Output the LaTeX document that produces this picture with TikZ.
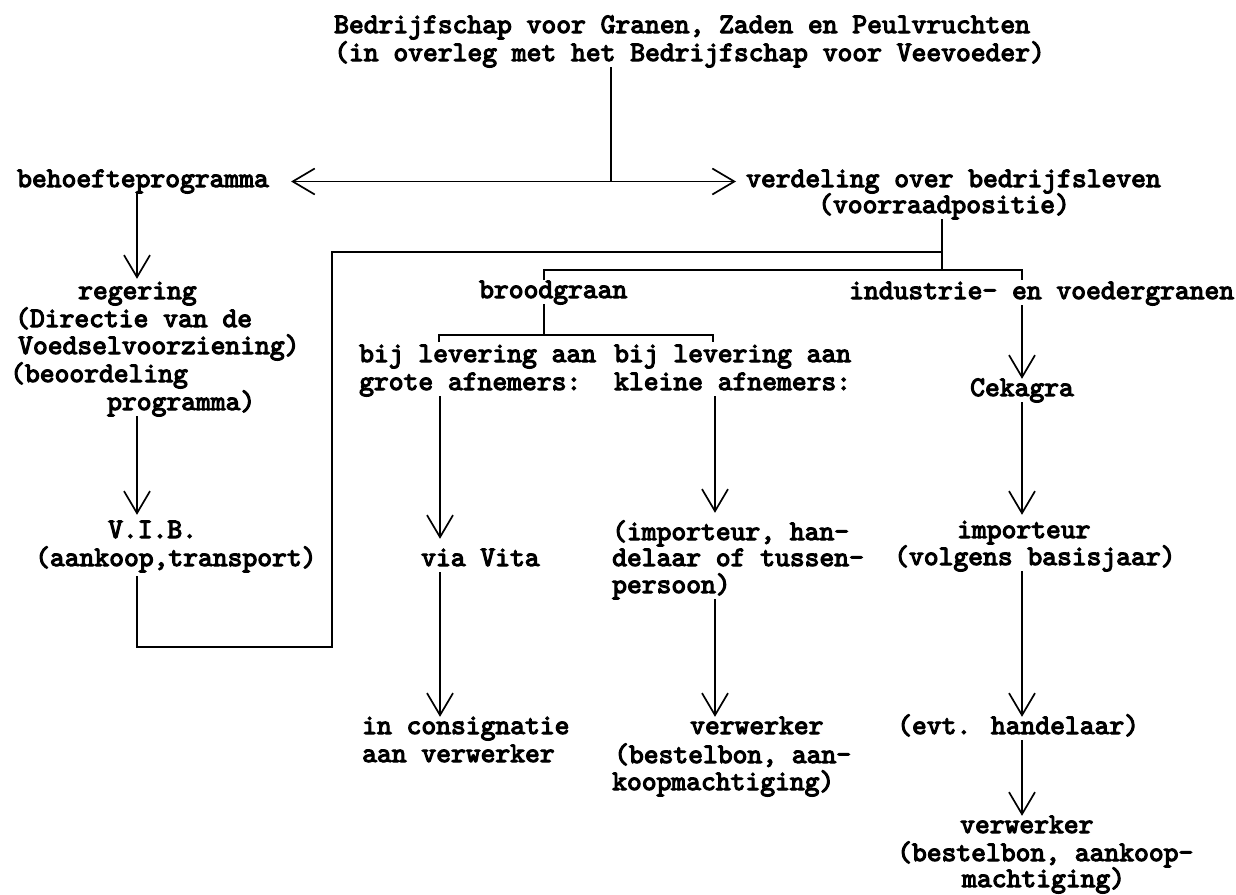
\documentclass[tikz,border=0pt]{standalone}
\usepackage{fontspec}
\newfontfamily\typew{lmmono10-regular.otf}[FakeBold=4]
\usetikzlibrary{arrows.meta}
\begin{document}
\begin{tikzpicture}[x=1pt,y=-1pt,
  lbl/.style={anchor=base west, inner sep=1pt, text height=16pt, text depth=5pt,
    font=\typew\fontsize{28.2}{28}\selectfont},
  ln/.style={line width=1.7pt},
  barb/.tip={Straight Barb[length=22pt,width=26pt]},
  arr/.style={ln,-barb},
  dbl/.style={ln,barb-barb}]
\useasboundingbox (0,0) rectangle (1236,894);
% column and row coordinates
\coordinate (xT) at (611,0);
\coordinate (xA) at (137,0);
\coordinate (xL) at (332,0);
\coordinate (xV) at (942,0);
\coordinate (xB) at (544,0);
\coordinate (xI) at (1022,0);
\coordinate (xG) at (440,0);
\coordinate (xK) at (715,0);
\coordinate (xGl) at (439,0);
\coordinate (xKr) at (713,0);
\coordinate (yTop) at (0,252);
\coordinate (yMid) at (0,270);
\coordinate (yTick) at (0,280);
\coordinate (yBr) at (0,335);
\coordinate (yBrT) at (0,342);
\coordinate (yBot) at (0,647);
% texts
\node[lbl] (t1) at (333,33) {Bedrijfschap voor Granen, Zaden en Peulvruchten};
\node[lbl] (t2) at (333,61) {(in overleg met het Bedrijfschap voor Veevoeder)};
\node[lbl] (beh) at (16,187) {behoefteprogramma};
\node[lbl] (vd1) at (745,187) {verdeling over bedrijfsleven};
\node[lbl] (vd2) at (817,213) {(voorraadpositie)};
\node[lbl] (rg1) at (77,299) {regering};
\node[lbl] (rg2) at (14,327) {(Directie van de};
\node[lbl] (rg3) at (17,354) {Voedselvoorziening)};
\node[lbl] (rg4) at (9,382) {(beoordeling};
\node[lbl] (rg5) at (106,410) {programma)};
\node[lbl] (vb1) at (107,538) {V.I.B.};
\node[lbl] (vb2) at (34,566) {(aankoop,transport)};
\node[lbl] (brd) at (478,298) {broodgraan};
\node[lbl] (ind) at (848,299) {industrie- en voedergranen};
\node[lbl] (g1) at (358,362) {bij levering aan};
\node[lbl] (g2) at (358,390) {grote afnemers:};
\node[lbl] (k1) at (613,362) {bij levering aan};
\node[lbl] (k2) at (613,390) {kleine afnemers:};
\node[lbl] (vita) at (420,566) {via Vita};
\node[lbl] (cs1) at (361,734) {in consignatie};
\node[lbl] (cs2) at (361,762) {aan verwerker};
\node[lbl] (im1) at (611,540) {(importeur, han-};
\node[lbl] (im2) at (611,566) {delaar of tussen-};
\node[lbl] (im3) at (611,593) {persoon)};
\node[lbl] (vw1) at (689,734) {verwerker};
\node[lbl] (vw2) at (613,763) {(bestelbon, aan-};
\node[lbl] (vw3) at (611,790) {koopmachtiging)};
\node[lbl] (cek) at (969,396) {Cekagra};
\node[lbl] (ip1) at (956,538) {importeur};
\node[lbl] (ip2) at (893,565) {(volgens basisjaar)};
\node[lbl] (evt) at (896,734) {(evt. handelaar)};
\node[lbl] (ww1) at (959,833) {verwerker};
\node[lbl] (ww2) at (896,861) {(bestelbon, aankoop-};
\node[lbl] (ww3) at (961,887) {machtiging)};
% connectors
\draw[ln] (t2.south -| xT) -- (xT |- beh.east);
\draw[dbl] ([xshift=21pt]beh.east) -- ([xshift=-9pt]vd1.west);
\draw[arr] (beh.south -| xA) -- ([yshift=3pt]rg1.north -| xA);
\draw[arr] (rg5.south -| xA) -- ([yshift=6pt]vb1.north -| xA);
\draw[ln] ([yshift=-4pt]vb2.south -| xA) -- (xA |- yBot) -- (xL |- yBot) -- (xL |- yTop) -- (xV |- yTop);
\draw[ln] (vd2.south -| xV) -- (xV |- yMid);
\draw[ln] (xB |- yTick) -- (xB |- yMid) -- (xI |- yMid) -- (xI |- yTick);
\draw[ln] (brd.south -| xB) -- (xB |- yBr);
\draw[ln] (xGl |- yBrT) -- (xGl |- yBr) -- (xKr |- yBr) -- (xKr |- yBrT);
\draw[arr] (g2.south -| xG) -- ([yshift=10pt]vita.north -| xG);
\draw[arr] (vita.south -| xG) -- (cs1.north -| xG);
\draw[arr] (k2.south -| xK) -- ([yshift=10pt]im1.north -| xK);
\draw[arr] (im3.south -| xK) -- (vw1.north -| xK);
\draw[arr] (ind.south -| xI) -- (cek.north -| xI);
\draw[arr] (cek.south -| xI) -- ([yshift=6pt]ip1.north -| xI);
\draw[arr] (ip2.south -| xI) -- (evt.north -| xI);
\draw[arr] (evt.south -| xI) -- (ww1.north -| xI);
\end{tikzpicture}
\end{document}
